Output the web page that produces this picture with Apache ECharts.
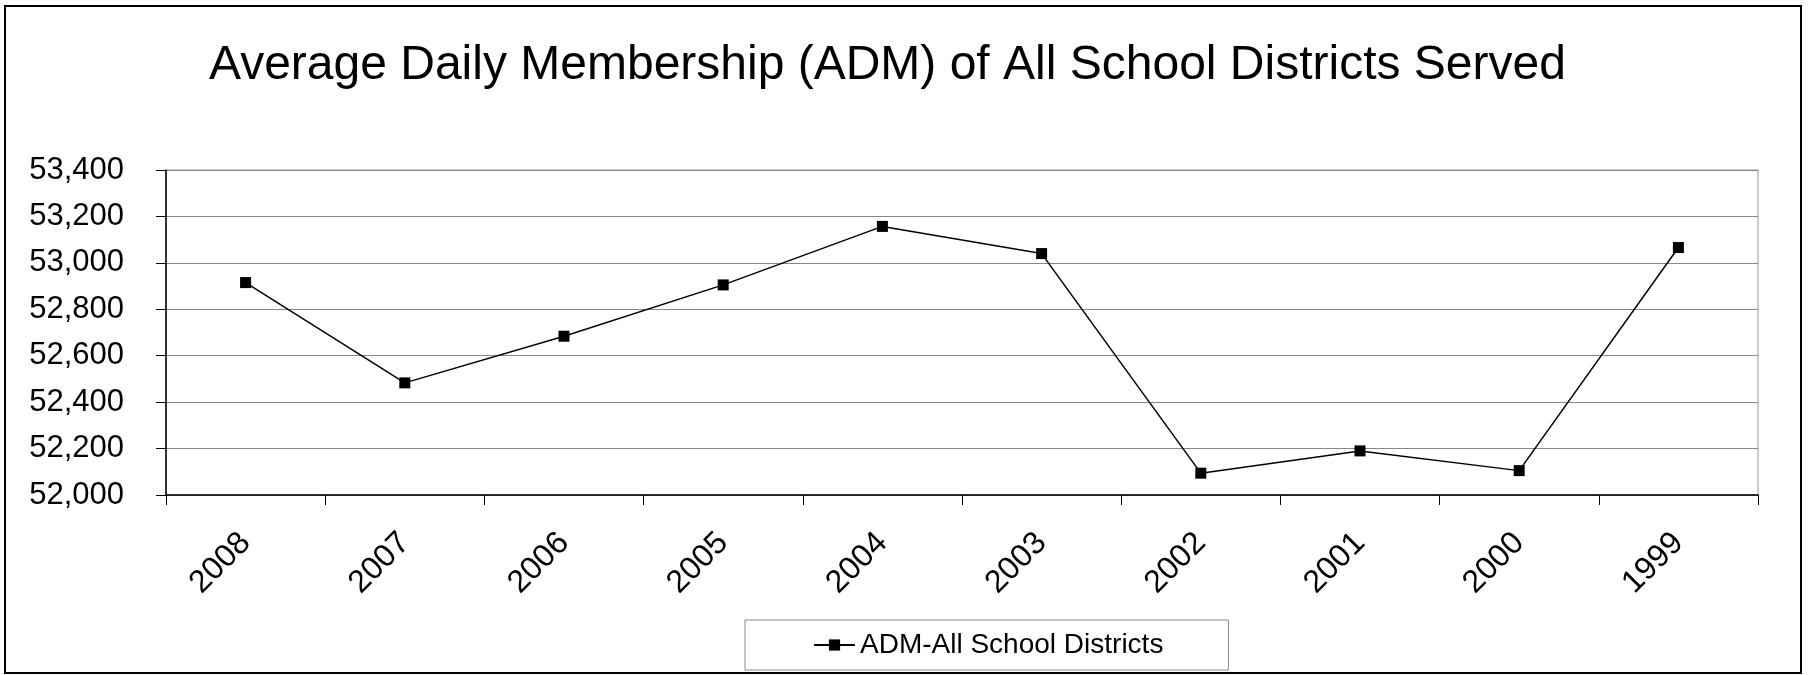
<!DOCTYPE html>
<html>
<head>
<meta charset="utf-8">
<script src="https://cdn.jsdelivr.net/npm/echarts@6/dist/echarts.min.js"></script>
<style>
html,body{margin:0;padding:0;background:#fff;}
#chart{width:1809px;height:675px;}
</style>
</head>
<body>
<div id="chart"></div>
<script>
// data
var years=["2008","2007","2006","2005","2004","2003","2002","2001","2000","1999"];
var adm=[52915,52483,52684,52905,53157,53040,52094,52190,52105,53066];
var seriesName="ADM-All School Districts";
var titleText="Average Daily Membership (ADM) of All School Districts Served";
var yMin=52000, yMax=53400, yStep=200;

var font='"Liberation Sans", Arial, sans-serif';
var myChart=echarts.init(document.getElementById('chart'));

var option={
    backgroundColor:'#fff',
    animation:false,
    title:{
        text:titleText,
        left:209,
        top:42,
        padding:0,
        textStyle:{fontFamily:font,fontSize:48,fontWeight:'normal',color:'#000'}
    },
    legend:{
        data:[seriesName],
        left:745,
        top:620,
        padding:[11,65,11,68],
        borderColor:'#888',
        borderWidth:1,
        itemWidth:41,
        itemHeight:14,
        textStyle:{fontFamily:font,fontSize:28,color:'#000'}
    },
    grid:{
        left:166,
        right:51,
        top:170,
        bottom:180,
        show:true,
        borderColor:'#999',
        borderWidth:1
    },
    xAxis:{
        type:'category',
        data:years,
        boundaryGap:true,
        axisLine:{lineStyle:{color:'#000',width:1.5}},
        axisTick:{show:true,length:10,lineStyle:{color:'#000'}},
        axisLabel:{rotate:45,margin:43,fontFamily:font,fontSize:32,color:'#000'}
    },
    yAxis:{
        type:'value',
        min:yMin,
        max:yMax,
        interval:yStep,
        axisLine:{show:true,lineStyle:{color:'#000',width:1.5}},
        axisTick:{show:true,length:10,lineStyle:{color:'#000'}},
        splitLine:{lineStyle:{color:'#888',width:1}},
        axisLabel:{margin:42,fontFamily:font,fontSize:31,color:'#000',
            formatter:function(v){return v.toLocaleString('en-US');}}
    },
    series:[{
        name:seriesName,
        type:'line',
        data:adm,
        symbol:'rect',
        symbolSize:11,
        lineStyle:{color:'#000',width:1.5},
        itemStyle:{color:'#000'}
    }],
    graphic:[{
        type:'rect',
        shape:{x:5,y:6,width:1796,height:667},
        style:{fill:null,stroke:'#000',lineWidth:2}
    }]
};
myChart.setOption(option);
</script>
</body>
</html>
